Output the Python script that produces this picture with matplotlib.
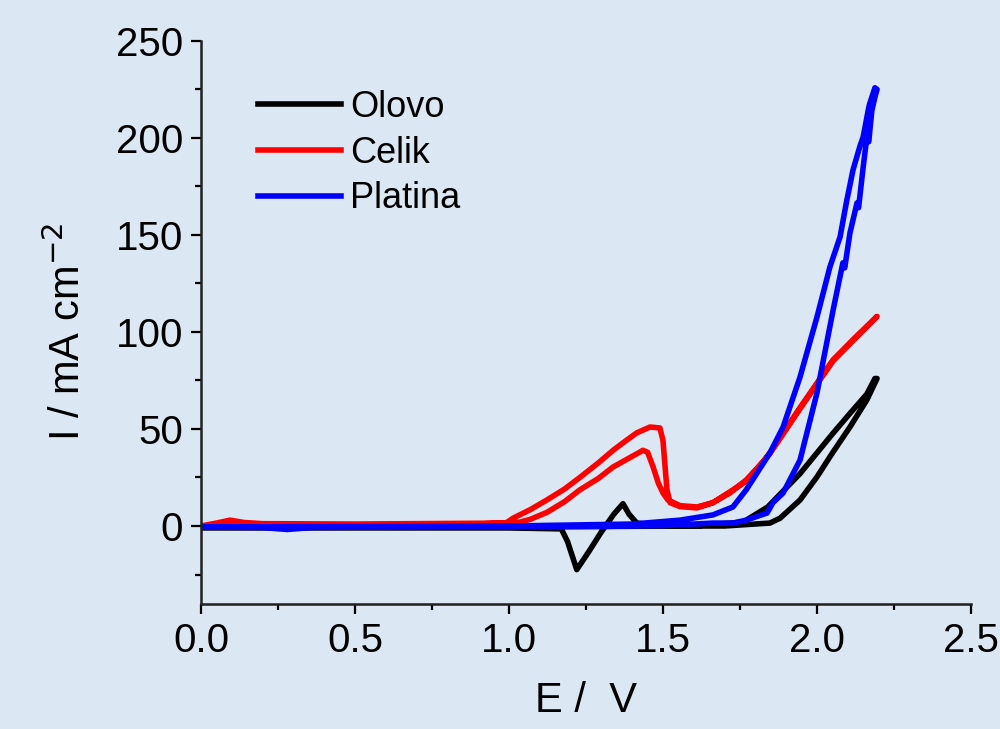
import matplotlib.pyplot as plt
from matplotlib.ticker import MultipleLocator

plt.rcParams['font.family'] = ['Liberation Sans', 'DejaVu Sans']

# Olovo (lead): forward scan then return scan
olovo_E = [0.0, 0.5, 1.0, 1.17, 1.19, 1.22, 1.26, 1.30, 1.34, 1.37, 1.39, 1.415, 1.5,
           1.7, 1.847, 1.88, 1.945, 2.0, 2.05, 2.107, 2.162, 2.195,
           2.188, 2.162, 2.107, 2.05, 1.945, 1.84, 1.76, 1.6, 1.0, 0.0]
olovo_I = [-1.0, -1.0, -1.0, -1.5, -8.0, -22.5, -13.0, -3.0, 6.0, 11.5, 6.0, 1.5, 0.0,
           0.0, 1.5, 4.0, 13.4, 25.3, 37.6, 51.0, 65.0, 76.0,
           76.0, 68.0, 58.0, 47.4, 27.0, 9.8, 2.0, 0.0, -0.5, -0.5]

# Celik (steel)
celik_E = [0.0, 0.05, 0.094, 0.14, 0.2, 0.5, 0.99, 1.013, 1.07, 1.123, 1.18, 1.23, 1.29, 1.338,
           1.38, 1.415, 1.458, 1.49, 1.50, 1.506, 1.513, 1.523, 1.555, 1.61, 1.662, 1.717,
           1.77, 1.825, 1.848, 1.945, 2.052, 2.12, 2.195,
           2.12, 2.052, 1.945, 1.848, 1.77, 1.662, 1.61, 1.555, 1.516, 1.50, 1.485, 1.468,
           1.45, 1.435, 1.39, 1.338, 1.29, 1.23, 1.18, 1.123, 1.07, 1.036, 0.9, 0.5, 0.0]
celik_I = [0.0, 1.5, 3.0, 1.8, 1.2, 1.0, 1.5, 4.0, 8.5, 13.4, 19.0, 25.0, 32.5, 39.0,
           44.0, 48.0, 51.0, 50.5, 44.0, 32.0, 18.6, 12.0, 10.0, 9.3, 12.0, 17.0,
           23.7, 33.0, 38.0, 61.0, 85.6, 96.5, 108.0,
           96.0, 85.0, 60.5, 37.5, 23.0, 12.0, 9.8, 10.5, 13.4, 17.0, 22.0, 30.4,
           38.0, 39.0, 35.0, 30.4, 24.5, 18.6, 12.5, 7.0, 3.5, 2.0, 1.0, 0.5, 0.0]

# Platina (platinum)
platina_E = [0.0, 0.2, 0.28, 0.36, 0.6, 1.0, 1.3, 1.5, 1.662, 1.727, 1.77, 1.838, 1.857,
             1.89, 1.945, 2.0, 2.052, 2.084, 2.09, 2.107, 2.13, 2.135, 2.15, 2.162,
             2.168, 2.178, 2.188, 2.195,
             2.188, 2.17, 2.166, 2.15, 2.14, 2.117, 2.097, 2.09, 2.075, 2.042, 2.0,
             1.945, 1.89, 1.847, 1.77, 1.727, 1.662, 1.555, 1.4, 1.0, 0.5, 0.0]
platina_I = [-0.5, -0.8, -1.8, -0.8, -0.5, -0.3, -0.2, 0.2, 1.5, 1.5, 3.0, 6.7, 12.0,
             17.0, 34.0, 68.6, 111.0, 135.6, 133.0, 151.0, 166.5, 164.0, 185.0, 200.5,
             198.0, 214.0, 221.0, 225.0,
             225.8, 217.0, 214.0, 200.5, 196.0, 183.5, 168.0, 162.0, 149.0, 133.5, 107.7,
             76.8, 51.0, 37.6, 18.6, 9.8, 5.7, 3.0, 1.0, 0.0, -0.3, -0.5]

bg = '#dbe7f3'
fig = plt.figure(figsize=(10, 7.29), dpi=100, facecolor=bg)
ax = fig.add_axes([0.201, 0.172, 0.770, 0.772])
ax.set_facecolor(bg)

ax.plot(olovo_E, olovo_I, color='black', lw=4, label='Olovo', solid_joinstyle='round')
ax.plot(celik_E, celik_I, color='#ff0000', lw=4, label='Celik', solid_joinstyle='round')
ax.plot(platina_E, platina_I, color='#0000ff', lw=4, label='Platina', solid_joinstyle='round')

ax.set_xlim(0, 2.5)
ax.set_ylim(-40, 250)
ax.xaxis.set_major_locator(MultipleLocator(0.5))
ax.xaxis.set_minor_locator(MultipleLocator(0.25))
ax.yaxis.set_major_locator(MultipleLocator(50))
ax.yaxis.set_minor_locator(MultipleLocator(25))
ax.xaxis.set_major_formatter(plt.FormatStrFormatter('%.1f'))

for s in ['top', 'right']:
    ax.spines[s].set_visible(False)
for s in ['left', 'bottom']:
    ax.spines[s].set_linewidth(1.8)
    ax.spines[s].set_color('#202020')

ax.tick_params(which='major', direction='out', length=7, width=1.6, labelsize=29, pad=6)
ax.tick_params(which='minor', direction='out', length=4, width=1.6)

ax.set_xlabel('E /  V', fontsize=30, labelpad=15)
ax.set_ylabel('I / mA cm$^{-2}$', fontsize=30)
ax.yaxis.set_label_coords(-0.145, 0.483)

leg = ax.legend(loc='upper left', bbox_to_anchor=(0.074, 0.913), frameon=False,
                borderpad=0, borderaxespad=0,
                fontsize=26, handlelength=2.3, handletextpad=0.25, labelspacing=0.3)

fig.savefig('out.png', dpi=100, facecolor=bg)
